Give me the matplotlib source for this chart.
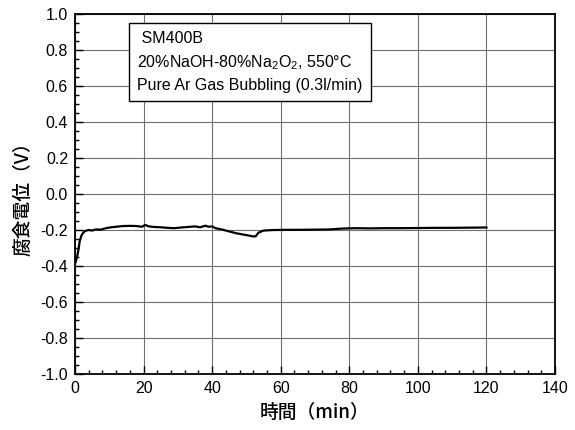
import matplotlib
matplotlib.use("Agg")
import matplotlib.pyplot as plt
from matplotlib.ticker import MultipleLocator

# corrosion potential vs time
time_min = [0.0, 0.3, 0.6, 1.0, 1.4, 1.9, 2.4, 3.0, 4.0, 5.0, 6.0, 7.5, 9.0, 10.5,
            12.0, 14.0, 16.0, 18.0, 19.5, 20.5, 21.5, 23.0, 25.0, 27.0, 29.0,
            31.0, 33.0, 35.0, 36.5, 38.0, 39.0, 40.0, 41.0, 43.0, 45.0, 47.0,
            49.0, 51.0, 52.0, 52.7, 53.5, 55.0, 58.0, 62.0, 66.0, 70.0, 74.0,
            78.0, 82.0, 86.0, 90.0, 95.0, 100.0, 105.0, 110.0, 115.0, 120.0]
potential_v = [-0.39, -0.37, -0.35, -0.31, -0.26, -0.23, -0.215, -0.205, -0.2, -0.203,
               -0.197, -0.198, -0.19, -0.185, -0.182, -0.178, -0.177, -0.178, -0.182,
               -0.172, -0.18, -0.183, -0.185, -0.188, -0.19, -0.186, -0.183, -0.18,
               -0.185, -0.176, -0.182, -0.18, -0.19, -0.198, -0.208, -0.218, -0.225,
               -0.232, -0.236, -0.235, -0.215, -0.203, -0.2, -0.199, -0.199, -0.198,
               -0.197, -0.192, -0.19, -0.191, -0.19, -0.19, -0.189, -0.188, -0.188,
               -0.187, -0.186]

legend_lines = [" SM400B",
                "20%NaOH-80%Na$_2$O$_2$, 550°C",
                "Pure Ar Gas Bubbling (0.3l/min)"]

plt.rcParams["font.family"] = ["Liberation Sans", "Noto Sans CJK JP", "DejaVu Sans"]
plt.rcParams["mathtext.fontset"] = "custom"
plt.rcParams["mathtext.rm"] = "Liberation Sans"

fig = plt.figure(figsize=(5.75, 4.3), dpi=100)
ax = fig.add_axes([75 / 575, 1 - 374 / 430, 480 / 575, 360 / 430])

ax.plot(time_min, potential_v, color="black", linewidth=1.6)

ax.set_xlim(0, 140)
ax.set_ylim(-1.0, 1.0)
ax.xaxis.set_major_locator(MultipleLocator(20))
ax.xaxis.set_minor_locator(MultipleLocator(4))
ax.yaxis.set_major_locator(MultipleLocator(0.2))
ax.yaxis.set_minor_locator(MultipleLocator(0.05))
ax.yaxis.set_major_formatter(plt.FuncFormatter(lambda v, _: f"{v:.1f}"))
ax.tick_params(which="both", direction="in", top=False, right=False,
               labelsize=11.5, width=1.0)
ax.tick_params(which="major", length=6, pad=5)
ax.tick_params(which="minor", length=3)
ax.grid(True, which="major", color="#707070", linewidth=0.8)
for sp in ax.spines.values():
    sp.set_linewidth(1.3)

cjk = ["Noto Sans CJK JP", "DejaVu Sans"]
ax.set_xlabel("時間（min）", fontsize=13.5, family=cjk, weight="medium", labelpad=5)
ax.set_ylabel("腐食電位（V）", fontsize=13.5, family=cjk, weight="medium", labelpad=6)

ax.text(18.2, 0.905, "\n".join(legend_lines), fontsize=11.5, va="top", ha="left",
        linespacing=1.5,
        bbox=dict(boxstyle="square,pad=0.5", facecolor="white",
                  edgecolor="black", linewidth=1.0))

fig.savefig("out.png", dpi=100)
